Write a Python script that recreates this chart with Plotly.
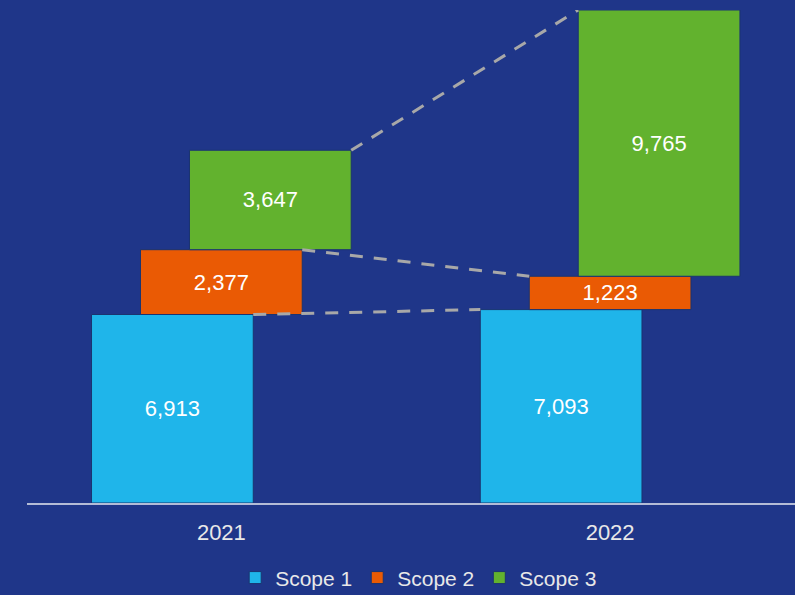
import plotly.graph_objects as go

years = ["2021", "2022"]
series = ["Scope 1", "Scope 2", "Scope 3"]
scope1 = [6913, 7093]
scope2 = [2377, 1223]
scope3 = [3647, 9765]
colors = ["#1FB5EA", "#EA5A04", "#62B22E"]

BG = "#1F3689"
W = 0.416      # bar width in category units
STEP = 0.126   # horizontal shift between successive scopes
xs = [0, 1]
FONT = "Liberation Sans"

fig = go.Figure()
base = [0, 0]
for i, (name, v, c) in enumerate(zip(series, [scope1, scope2, scope3], colors)):
    off = -W / 2 + (i - 1) * STEP
    fig.add_trace(go.Bar(
        x=xs, y=v, base=base, offset=off, width=W, name=name,
        marker=dict(color=c, line=dict(width=1, color="#1B3470")),
        text=[f"{t:,}" for t in v], textposition="inside",
        insidetextanchor="middle", constraintext="none", textangle=0,
        textfont=dict(color="white", size=22, family=FONT),
        hoverinfo="skip",
    ))
    tops = [b + t for b, t in zip(base, v)]
    fig.add_trace(go.Scatter(
        x=[xs[0] + off + W, xs[1] + off], y=tops, mode="lines",
        line=dict(color="#A8A8A8", width=3, dash="13px,11px"),
        showlegend=False, hoverinfo="skip",
    ))
    base = tops

ymax = max(base)

fig.update_layout(
    width=795, height=595, autosize=False,
    margin=dict(l=27, r=0, t=10, b=92, autoexpand=False),
    paper_bgcolor=BG, plot_bgcolor=BG,
    barmode="overlay",
    font=dict(family=FONT, color="#E8E8E8"),
    xaxis=dict(
        tickvals=xs, ticktext=years, range=[-0.5, 1.4756],
        showline=True, linecolor="#B4BCD6", linewidth=1.5,
        showgrid=False, zeroline=False, automargin=False,
        ticks="outside", ticklen=9, tickcolor="rgba(0,0,0,0)",
        tickfont=dict(size=22, color="#E8E8E8"),
    ),
    yaxis=dict(range=[0, ymax], visible=False, showgrid=False, zeroline=False),
    legend=dict(
        orientation="h", x=0.51, xanchor="center", y=-0.152, yanchor="middle",
        font=dict(size=21, color="#E8E8E8"), traceorder="normal",
        bgcolor="rgba(0,0,0,0)", itemwidth=30,
    ),
    showlegend=True,
)

fig.write_html("out.html", config={"displayModeBar": False},
               post_script="document.body.style.margin='0';")
